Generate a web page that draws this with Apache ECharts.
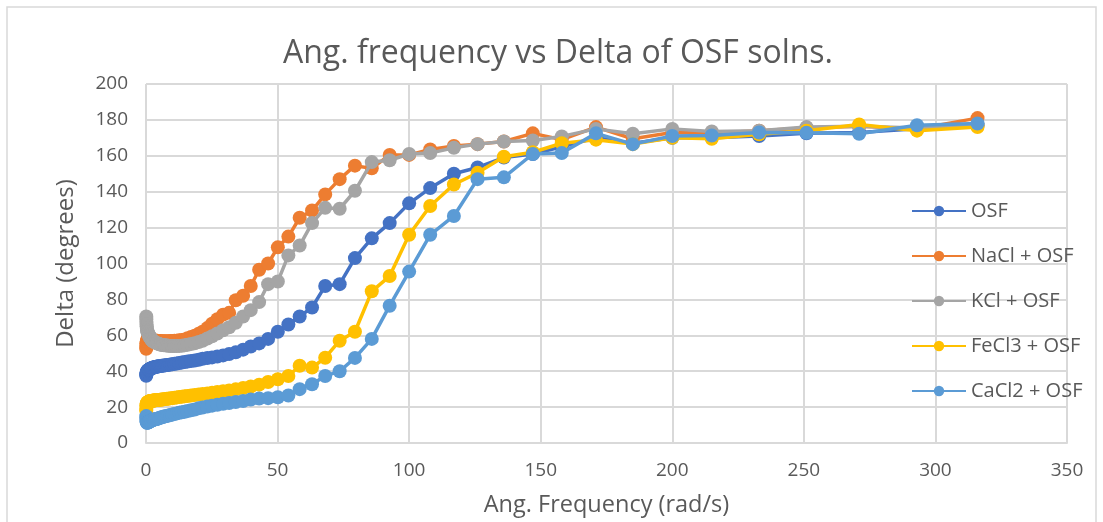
<!DOCTYPE html>
<html>
<head>
<meta charset="utf-8">
<script src="https://cdn.jsdelivr.net/npm/echarts@6/dist/echarts.min.js"></script>
<style>
html,body{margin:0;padding:0;background:#fff;}
#chart{width:1103px;height:522px;}
</style>
</head>
<body>
<div id="chart"></div>
<script>
// Angular frequency (rad/s)
const freq = [
  0.1, 0.126, 0.158, 0.2, 0.251, 0.316, 0.398, 0.501, 0.631, 0.794,
  1, 1.08, 1.17, 1.26, 1.36, 1.47, 1.58, 1.71, 1.85, 2.0,
  2.15, 2.33, 2.51, 2.71, 2.93, 3.16, 3.41, 3.69, 3.98, 4.3,
  4.64, 5.01, 5.41, 5.84, 6.31, 6.81, 7.36, 7.94, 8.58, 9.26,
  10, 10.8, 11.7, 12.6, 13.6, 14.7, 15.8, 17.1, 18.5, 20,
  21.5, 23.3, 25.1, 27.1, 29.3, 31.6, 34.1, 36.9, 39.8, 43,
  46.4, 50.1, 54.1, 58.4, 63.1, 68.1, 73.6, 79.4, 85.8, 92.6,
  100, 108, 117, 126, 136, 147, 158, 171, 185, 200,
  215, 233, 251, 271, 293, 316
];
const osf = [
  37.5, 38, 38.5, 39, 39.3, 39.6, 39.9, 40.1, 40.3, 40.5,
  40.7, 40.8, 40.9, 41, 41.1, 41.2, 41.3, 41.4, 41.5, 41.6,
  41.7, 41.8, 41.9, 42, 42.1, 42.2, 42.3, 42.4, 42.5, 42.6,
  42.7, 42.8, 42.9, 43, 43.1, 43.2, 43.3, 43.4, 43.5, 43.7,
  43.9, 44.1, 44.3, 44.5, 44.8, 45.1, 45.4, 45.7, 46, 46.4,
  46.9, 47.3, 47.7, 48.2, 48.8, 49.6, 50.5, 52, 53.8, 55.5,
  58, 62, 66, 70.5, 75.5, 87.5, 88.5, 103, 114, 122.5,
  133.5, 142, 150, 153.5, 159, 161, 165, 170, 167, 170,
  170, 171, 172.5, 173, 175, 177
];
const nacl = [
  52.5, 53.5, 54.5, 55.5, 56, 56.5, 57, 57.5, 58, 58.2,
  58.3, 58.3, 58.2, 58.2, 58.1, 58, 58, 57.9, 57.8, 57.7,
  57.6, 57.5, 57.4, 57.3, 57.2, 57.1, 57, 57, 56.9, 56.9,
  56.8, 56.8, 56.8, 56.7, 56.7, 56.7, 56.7, 56.7, 56.7, 56.8,
  56.8, 56.9, 57, 57.2, 57.4, 57.7, 58.3, 59, 59.8, 60.8,
  62, 64, 66.5, 69, 71.5, 72.5, 79.5, 82, 87.5, 96.5,
  100, 109, 115, 125.5, 129.5, 138.5, 147, 154.5, 153, 160.5,
  160.5, 163.5, 165.5, 166.5, 168, 172.5, 169, 176, 169.5, 173,
  172.5, 174, 175.5, 176.5, 175, 181
];
const kcl = [
  70.5, 69, 67.5, 66, 65, 64, 63, 62.3, 61.6, 61,
  60.5, 60.2, 59.9, 59.6, 59.3, 59, 58.7, 58.4, 58.1, 57.8,
  57.5, 57.2, 56.9, 56.7, 56.5, 56.3, 56.1, 55.9, 55.7, 55.5,
  55.3, 55.1, 54.9, 54.7, 54.6, 54.5, 54.4, 54.3, 54.2, 54.1,
  54, 54, 54, 54.1, 54.2, 54.4, 54.7, 55.1, 55.6, 56.2,
  57, 58.2, 59.5, 61, 62.8, 64.5, 67, 70.5, 74, 78.5,
  88.5, 90, 104.5, 110, 122.5, 131, 130.5, 140.5, 156.5, 157.5,
  161, 161.5, 164.5, 166.5, 168, 168.5, 170.8, 175, 172.3, 175,
  173.5, 174, 176, 176.5, 175.5, 177
];
const fecl3 = [
  18, 19, 20, 21, 21.5, 22, 22.3, 22.5, 22.7, 22.9,
  23, 23, 23.1, 23.1, 23.2, 23.2, 23.3, 23.3, 23.4, 23.4,
  23.5, 23.5, 23.6, 23.6, 23.7, 23.7, 23.8, 23.8, 23.9, 23.9,
  24, 24, 24.1, 24.2, 24.3, 24.4, 24.5, 24.6, 24.7, 24.9,
  25, 25.2, 25.4, 25.6, 25.8, 26, 26.2, 26.4, 26.7, 27,
  27.3, 27.6, 28, 28.4, 28.8, 29.3, 29.9, 30.6, 31.5, 32.5,
  34, 35.5, 37.3, 43, 42, 47.5, 57, 62, 84.5, 93,
  116, 132, 144, 150.5, 159.5, 162, 167, 169, 166.5, 170,
  169.5, 172, 174, 177.5, 174, 176
];
const cacl2 = [
  15, 14, 13, 12.3, 11.8, 11.5, 11.3, 11.3, 11.4, 11.5,
  11.6, 11.7, 11.8, 11.9, 12, 12.1, 12.2, 12.3, 12.4, 12.5,
  12.6, 12.7, 12.8, 12.9, 13, 13.1, 13.2, 13.3, 13.4, 13.5,
  13.7, 13.9, 14.1, 14.3, 14.5, 14.7, 14.9, 15.1, 15.3, 15.6,
  15.9, 16.2, 16.5, 16.8, 17.1, 17.4, 17.8, 18.2, 18.7, 19.3,
  19.8, 20.3, 20.8, 21.3, 21.8, 22.3, 22.8, 23.4, 24.2, 24.8,
  25, 25.5, 26.5, 30, 32.7, 37.3, 40, 47.4, 58, 76.5,
  95.5, 116, 126.5, 147, 148, 161, 161.5, 172.5, 166.5, 171,
  171.3, 173, 172.8, 172.3, 177, 178
];
const seriesNames = ['OSF', 'NaCl + OSF', 'KCl + OSF', 'FeCl3 + OSF', 'CaCl2 + OSF'];
const seriesValues = [osf, nacl, kcl, fecl3, cacl2];
const colors = ['#4472C4', '#ED7D31', '#A5A5A5', '#FFC000', '#5B9BD5'];

const FONT = "'Open Sans', sans-serif";
const chart = echarts.init(document.getElementById('chart'));
chart.setOption({
  animation: false,
  textStyle: { fontFamily: FONT },
  title: {
    text: 'Ang. frequency vs Delta of OSF solns.',
    left: 558,
    textAlign: 'center',
    top: 38,
    padding: 0,
    textStyle: { fontFamily: FONT, fontSize: 32, fontWeight: 'normal', color: '#595959' }
  },
  graphic: [{
    type: 'rect',
    shape: { x: 7, y: 7, width: 1089, height: 530 },
    style: { fill: 'none', stroke: '#D9D9D9', lineWidth: 1.5 },
    silent: true, z: -1
  }],
  legend: {
    orient: 'vertical',
    left: 911,
    top: 201,
    padding: 0,
    itemWidth: 54,
    itemHeight: 13,
    itemGap: 25,
    textStyle: { fontFamily: FONT, fontSize: 20, color: '#595959' },
    data: seriesNames
  },
  grid: { left: 146, right: 36, top: 84, bottom: 76, containLabel: false },
  xAxis: {
    type: 'value',
    min: 0, max: 350, interval: 50,
    name: 'Ang. Frequency (rad/s)',
    nameLocation: 'middle',
    nameGap: 50,
    nameTextStyle: { fontFamily: FONT, fontSize: 23.5, color: '#595959' },
    axisLine: { show: true, lineStyle: { color: '#D9D9D9', width: 2 } },
    axisTick: { show: false },
    axisLabel: { fontFamily: FONT, fontSize: 19, color: '#595959', margin: 18 },
    splitLine: { show: true, lineStyle: { color: '#D9D9D9', width: 2 } }
  },
  yAxis: {
    type: 'value',
    min: 0, max: 200, interval: 20,
    name: 'Delta (degrees)',
    nameLocation: 'middle',
    nameGap: 68,
    nameTextStyle: { fontFamily: FONT, fontSize: 24, color: '#595959' },
    axisLine: { show: false },
    axisTick: { show: false },
    axisLabel: { fontFamily: FONT, fontSize: 19, color: '#595959', margin: 18 },
    splitLine: { show: true, lineStyle: { color: '#D9D9D9', width: 2 } }
  },
  series: seriesNames.map((name, i) => ({
    name: name,
    type: 'line',
    data: freq.map((f, j) => [f, seriesValues[i][j]]),
    symbol: 'circle',
    symbolSize: 14,
    showSymbol: true,
    lineStyle: { color: colors[i], width: 3.5 },
    itemStyle: { color: colors[i] },
    z: 2 + i
  }))
});
</script>
</body>
</html>
